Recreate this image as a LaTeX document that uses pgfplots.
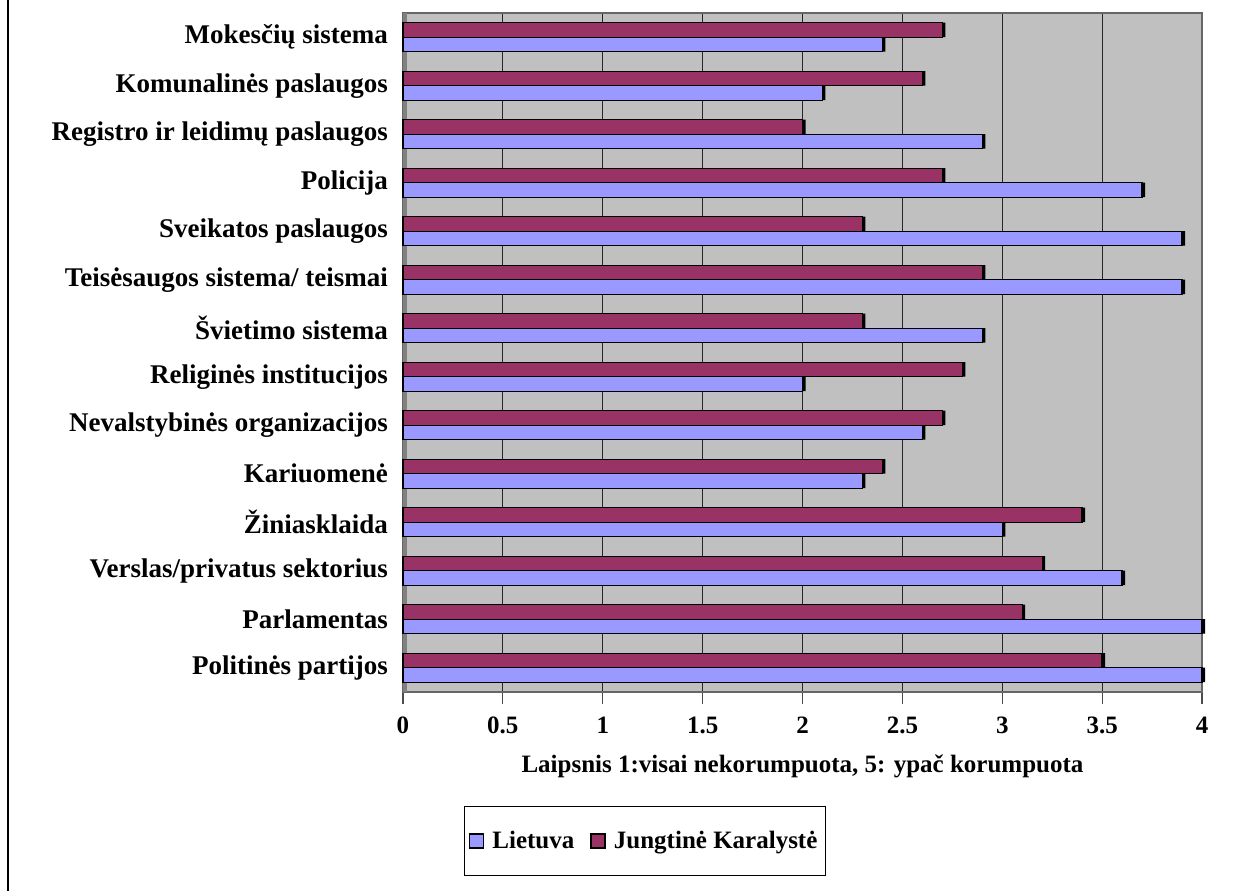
\documentclass[border=0pt]{standalone}
\usepackage{pgfplots}
\pgfplotsset{compat=1.18}
\usepackage{pgfplotstable}
\usepackage{fontspec}
\setmainfont{Liberation Serif}
\definecolor{lt}{HTML}{9999FF}
\definecolor{uk}{HTML}{993366}
\definecolor{wall}{HTML}{C0C0C0}
\pgfplotstableread{
pos L UK
0 4.0 3.5
1 4.0 3.1
2 3.6 3.2
3 3.0 3.4
4 2.3 2.4
5 2.6 2.7
6 2.0 2.8
7 2.9 2.3
8 3.9 2.9
9 3.9 2.3
10 3.7 2.7
11 2.9 2.0
12 2.1 2.6
13 2.4 2.7
}\datatable
\begin{document}
\begin{tikzpicture}
\begin{axis}[
  name=ax,
  scale only axis,
  width=399.5pt, height=339.5pt,
  xbar, bar width=7.25pt,
  clip=false,
  xmin=0, xmax=4, ymin=-0.5, ymax=13.5,
  xtick={0,0.5,...,4},
  ytick={0,...,13},
  yticklabels={Politinės partijos,Parlamentas,Verslas/privatus sektorius,Žiniasklaida,Kariuomenė,Nevalstybinės organizacijos,Religinės institucijos,Švietimo sistema,Teisėsaugos sistema/ teismai,Sveikatos paslaugos,Policija,Registro ir leidimų paslaugos,Komunalinės paslaugos,Mokesčių sistema},
  axis background/.style={fill=wall},
  axis line style={draw=gray!80!black, line width=1pt},
  xmajorgrids, grid style={black!85, line width=0.6pt},
  major x tick style={black!70, line width=0.6pt},
  major tick length=6pt,
  tick align=outside,
  xtick pos=lower,
  ytick style={draw=none},
  /pgf/number format/assume math mode=true,
  xticklabel style={font=\fontsize{12.5}{14}\selectfont\bfseries, yshift=-3pt},
  yticklabel style={font=\fontsize{13.5}{15}\selectfont\bfseries, xshift=2pt},
  xlabel={Laipsnis 1:visai nekorumpuota, 5: ypač korumpuota},
  xlabel style={font=\fontsize{12.5}{15}\selectfont\bfseries, at={(axis description cs:0.5,-0.11)}, anchor=center},
  legend columns=2,
  legend style={at={(axis description cs:0.303,-0.2194)}, anchor=center,
    draw=black, line width=0.6pt, inner xsep=2pt, inner ysep=10pt,
    font=\fontsize{12.5}{15}\selectfont\bfseries,
    /tikz/every odd column/.append style={column sep=2pt},
    /tikz/every even column/.append style={column sep=6pt}},
  legend image code/.code={\draw[#1, draw=black, line width=0.8pt] (0pt,-3.5pt) rectangle (7pt,3.5pt);},
]
\fill[gray] (axis cs:0,-0.5) rectangle (axis cs:0.02,13.5);
% shadows
\addplot[forget plot, fill=black, draw=none, bar shift=-3.625pt, xshift=1.5pt] table[x=L, y=pos] {\datatable};
\addplot[forget plot, fill=black, draw=none, bar shift=3.625pt, xshift=1.5pt] table[x=UK, y=pos] {\datatable};
\addplot[fill=lt, draw=black, line width=0.7pt, bar shift=-3.625pt] table[x=L, y=pos] {\datatable};
\addplot[fill=uk, draw=black, line width=0.7pt, bar shift=3.625pt] table[x=UK, y=pos] {\datatable};
\legend{Lietuva, Jungtinė Karalystė}
\end{axis}
\pgfresetboundingbox
\path[use as bounding box] ([shift={(-201.5pt,-99.5pt)}]ax.south west) rectangle ([shift={(19pt,6.5pt)}]ax.north east);
\draw[black, line width=1pt] ([shift={(-197.5pt,-120pt)}]ax.south west) -- ([shift={(-197.5pt,20pt)}]ax.north west);
\end{tikzpicture}
\end{document}
